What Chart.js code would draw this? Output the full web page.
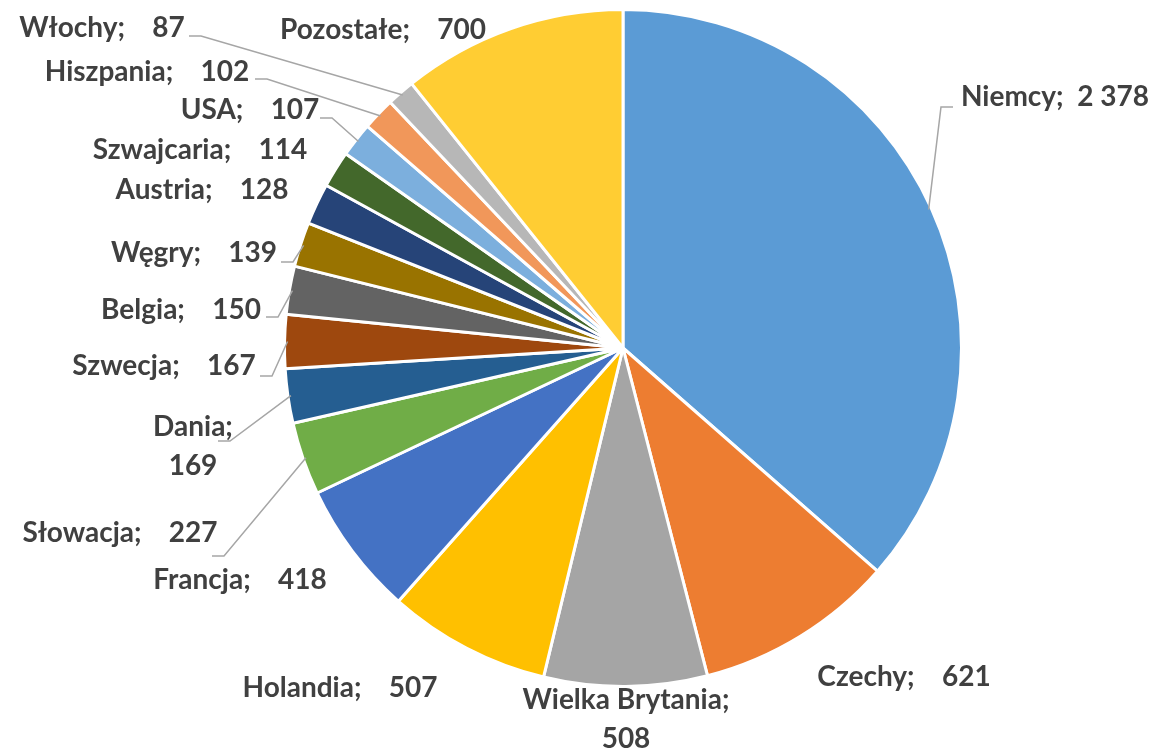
<!DOCTYPE html>
<html>
<head>
<meta charset="utf-8">
<script src="https://cdn.jsdelivr.net/npm/chart.js@4.4.0/dist/chart.umd.min.js"></script>
<style>
  html, body { margin: 0; padding: 0; background: #fff; }
  #wrap { width: 1159px; height: 751px; }
</style>
</head>
<body>
<div id="wrap"><canvas id="pieChart" width="1159" height="751"></canvas></div>
<script>
// Data
const countries = ['Niemcy', 'Czechy', 'Wielka Brytania', 'Holandia', 'Francja', 'Słowacja', 'Dania',
    'Szwecja', 'Belgia', 'Węgry', 'Austria', 'Szwajcaria', 'USA', 'Hiszpania', 'Włochy', 'Pozostałe'];
const counts = [2378, 621, 508, 507, 418, 227, 169, 167, 150, 139, 128, 114, 107, 102, 87, 700];
const sliceColors = ['#5B9BD5', '#ED7D31', '#A5A5A5', '#FFC000', '#4472C4', '#70AD47', '#255E91',
    '#9E480E', '#636363', '#997300', '#264478', '#43682B', '#7CAFDD', '#F1975A', '#B7B7B7', '#FFCD33'];

// Label placement (Excel-style manual positions): centre x, middle y, line break, leader start + direction
const labelLayout = [
    { x: 1055, y: 97, gap: '  ', leader: [953, 107, -1] },
    { x: 904, y: 677 },
    { x: 626, y: 700, split: true },
    { x: 340, y: 688 },
    { x: 240, y: 580 },
    { x: 120, y: 533, leader: [212, 556, 1] },
    { x: 193, y: 427, split: true, leader: [218, 441, 1] },
    { x: 164, y: 366, leader: [260, 376, 1] },
    { x: 181, y: 310, leader: [266, 317, 1] },
    { x: 194, y: 253, leader: [281, 262, 1] },
    { x: 202, y: 190 },
    { x: 200, y: 150 },
    { x: 250, y: 110, leader: [320, 118, 1] },
    { x: 147, y: 72, leader: [255, 79, 1] },
    { x: 102, y: 28, leader: [189, 36, 1] },
    { x: 383, y: 30 }
];

// Format numbers with a space as thousands separator
function fmt(n) {
    return String(n).replace(/\B(?=(\d{3})+(?!\d))/g, ' ');
}

// Plugin drawing the outside labels and leader lines
const outsideLabels = {
    id: 'outsideLabels',
    afterDatasetsDraw(chart) {
        const ctx = chart.ctx;
        const arcs = chart.getDatasetMeta(0).data;
        ctx.save();
        arcs.forEach((arc, i) => {
            const lay = labelLayout[i];
            const p = arc.getProps(['x', 'y', 'startAngle', 'endAngle', 'outerRadius'], true);
            const mid = (p.startAngle + p.endAngle) / 2;
            if (lay.leader) {
                const [lx, ly, dir] = lay.leader;
                const r = p.outerRadius - 3;
                ctx.beginPath();
                ctx.strokeStyle = '#A6A6A6';
                ctx.lineWidth = 1.5;
                ctx.moveTo(lx, ly);
                ctx.lineTo(lx + dir * 12, ly);
                ctx.lineTo(p.x + Math.cos(mid) * r, p.y + Math.sin(mid) * r);
                ctx.stroke();
            }
            ctx.fillStyle = '#404040';
            ctx.font = 'bold 28px Lato, "Open Sans", sans-serif';
            ctx.textAlign = 'center';
            ctx.textBaseline = 'middle';
            const name = countries[i] + ';';
            const val = fmt(counts[i]);
            if (lay.split) {
                ctx.fillText(name, lay.x, lay.y);
                ctx.fillText(val, lay.x, lay.y + 39);
            } else {
                ctx.fillText(name + (lay.gap || '    ') + val, lay.x, lay.y);
            }
        });
        ctx.restore();
    }
};

const chart = new Chart(document.getElementById('pieChart').getContext('2d'), {
    type: 'pie',
    data: {
        labels: countries,
        datasets: [{
            data: counts,
            backgroundColor: sliceColors,
            borderColor: '#FFFFFF',
            borderWidth: 3
        }]
    },
    options: {
        responsive: false,
        animation: false,
        layout: { padding: { left: 283, right: 196, top: 8, bottom: 63 } },
        plugins: {
            legend: { display: false },
            tooltip: { enabled: false }
        }
    },
    plugins: [outsideLabels]
});
</script>
</body>
</html>
